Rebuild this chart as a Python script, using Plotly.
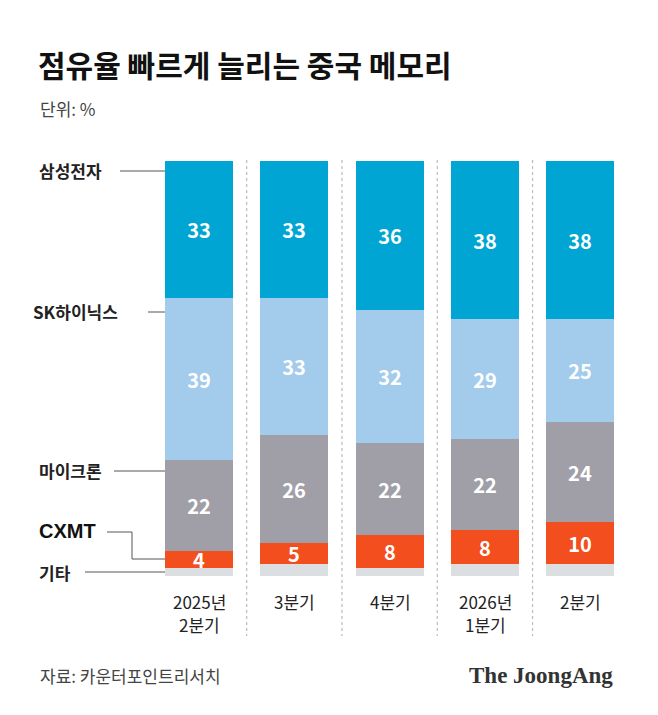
import plotly.graph_objects as go

periods = ["2025년<br>2분기", "3분기", "4분기", "2026년<br>1분기", "2분기"]
other = [2, 3, 2, 3, 3]
cxmt = [4, 5, 8, 8, 10]
micron = [22, 26, 22, 22, 24]
skh = [39, 33, 32, 29, 25]
samsung = [33, 33, 36, 38, 38]

O = 8  # page offset compensation
W, H = 650, 707
top, bot = 161 - O, 576 - O
F = "Noto Sans CJK KR"

series = [("기타", other, "#DCDFE2", None),
          ("CXMT", cxmt, "#F24E1E", "white"),
          ("마이크론", micron, "#A09FA8", "white"),
          ("SK하이닉스", skh, "#A3CBEC", "white"),
          ("삼성전자", samsung, "#00A5D3", "white")]

x = list(range(len(periods)))
fig = go.Figure()
for name, vals, col, tc in series:
    fig.add_bar(x=x, y=vals, name=name, marker=dict(color=col, line=dict(width=0)),
                width=0.715,
                text=[str(v) for v in vals] if tc else None,
                textposition="inside" if tc else "none", insidetextanchor="middle",
                textangle=0, constraintext="none",
                textfont=dict(color="white", size=20, family=F),
                texttemplate="<b>%{text}</b>" if tc else None,
                hoverinfo="skip")

def py(p):
    return (bot - (p - O)) / (bot - top)

step = 95.3
c0 = 199 - O
x0 = -c0 / step
x1 = (W - c0) / step

def pxx(p):
    return (p - O - c0) / step

shapes = []
for i in range(4):
    xm = i + 0.5
    shapes.append(dict(type="line", xref="x", yref="paper", x0=xm, x1=xm, y0=py(160), y1=py(636),
                       line=dict(color="#BBBBBB", width=1.2, dash="dot")))

lc = "#555555"
def hline(px0, px1, yy):
    shapes.append(dict(type="line", xref="x", yref="paper", x0=pxx(px0), x1=pxx(px1),
                       y0=py(yy), y1=py(yy), line=dict(color=lc, width=1)))
hline(120, 165, 171)
hline(148, 165, 312)
hline(114, 165, 471)
hline(85, 165, 572)
hline(107, 132, 532)
shapes.append(dict(type="line", xref="x", yref="paper", x0=pxx(132), x1=pxx(132),
                   y0=py(532), y1=py(559), line=dict(color=lc, width=1)))
hline(132, 165, 559)

ann = []
def A(text, px, pyy, size, color="#111", anchor="left", family=F):
    ann.append(dict(text=text, xref="paper", yref="paper", x=(px - O) / W, y=py(pyy),
                    xanchor=anchor, yanchor="middle", showarrow=False,
                    font=dict(size=size, color=color, family=family)))

A("<b>점유율 빠르게 늘리는 중국 메모리</b>", 36, 64, 30, "#111")
A("단위: %", 38, 108, 17, "#444")
A("<b>삼성전자</b>", 37, 170, 17, "#222")
A("<b>SK하이닉스</b>", 31, 311, 17, "#222")
A("<b>마이크론</b>", 37, 470, 17, "#222")
A("<b>CXMT</b>", 37, 531, 20, "#111", family="Liberation Sans")
A("<b>기타</b>", 37, 572, 17, "#222")
centers = [199, 294, 390, 485, 580]
for c, lab in zip(centers, periods):
    parts = lab.split("<br>")
    for k, p in enumerate(parts):
        A(p, c, 601 + 23 * k, 17, "#222", anchor="center")
A("자료: 카운터포인트리서치", 38, 675, 17, "#444")
A("<b>The JoongAng</b>", 615, 675, 23, "#333", anchor="right", family="Liberation Serif")

fig.update_layout(
    barmode="stack", width=W, height=H, showlegend=False,
    margin=dict(l=0, r=0, t=top, b=H - bot),
    plot_bgcolor="white", paper_bgcolor="white",
    xaxis=dict(range=[x0, x1], visible=False, fixedrange=True),
    yaxis=dict(range=[0, 100], visible=False, fixedrange=True),
    shapes=shapes, annotations=ann, bargap=0,
)
fig.write_html("out.html")
